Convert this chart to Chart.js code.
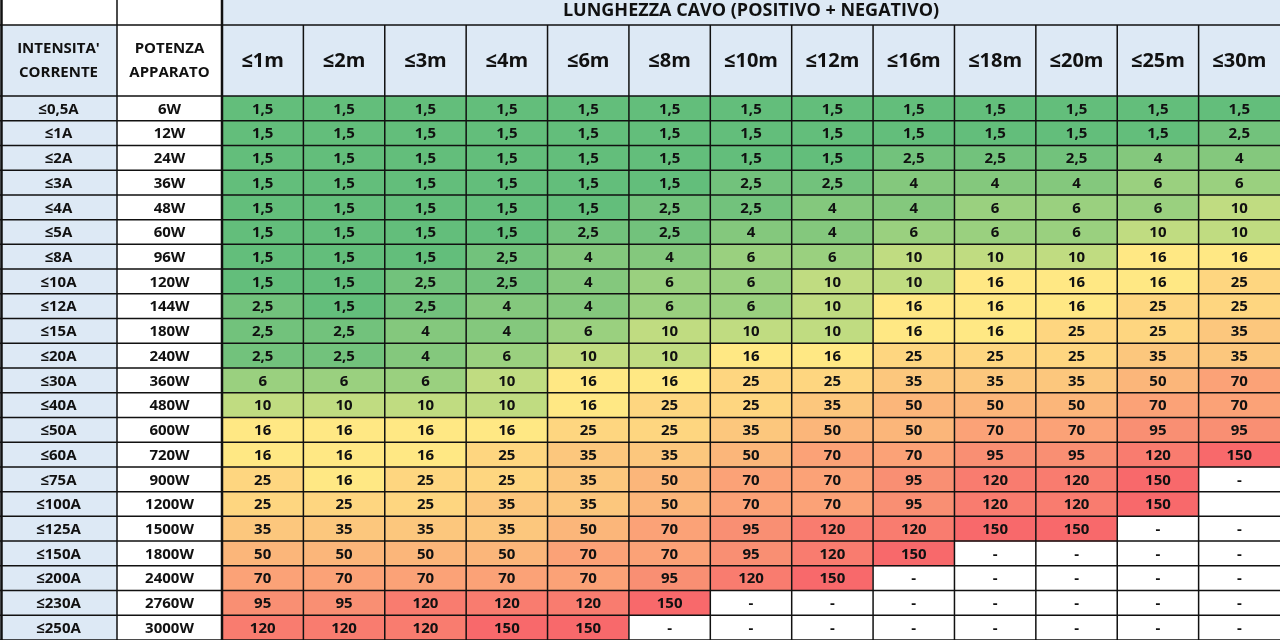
<!DOCTYPE html>
<html><head><meta charset="utf-8">
<script src="https://cdn.jsdelivr.net/npm/chart.js@4"></script>
<style>html,body{margin:0;padding:0;background:#fff}#w{width:1280px;height:640px}</style>
</head><body><div id="w"><canvas id="c"></canvas></div>
<script>
const lengths = ['≤1m','≤2m','≤3m','≤4m','≤6m','≤8m','≤10m','≤12m','≤16m','≤18m','≤20m','≤25m','≤30m'];
const currents = ['≤0,5A','≤1A','≤2A','≤3A','≤4A','≤5A','≤8A','≤10A','≤12A','≤15A','≤20A','≤30A','≤40A','≤50A','≤60A','≤75A','≤100A','≤125A','≤150A','≤200A','≤230A','≤250A'];
const powers = ['6W','12W','24W','36W','48W','60W','96W','120W','144W','180W','240W','360W','480W','600W','720W','900W','1200W','1500W','1800W','2400W','2760W','3000W'];
const sections = [
['1,5','1,5','1,5','1,5','1,5','1,5','1,5','1,5','1,5','1,5','1,5','1,5','1,5'],
['1,5','1,5','1,5','1,5','1,5','1,5','1,5','1,5','1,5','1,5','1,5','1,5','2,5'],
['1,5','1,5','1,5','1,5','1,5','1,5','1,5','1,5','2,5','2,5','2,5','4','4'],
['1,5','1,5','1,5','1,5','1,5','1,5','2,5','2,5','4','4','4','6','6'],
['1,5','1,5','1,5','1,5','1,5','2,5','2,5','4','4','6','6','6','10'],
['1,5','1,5','1,5','1,5','2,5','2,5','4','4','6','6','6','10','10'],
['1,5','1,5','1,5','2,5','4','4','6','6','10','10','10','16','16'],
['1,5','1,5','2,5','2,5','4','6','6','10','10','16','16','16','25'],
['2,5','1,5','2,5','4','4','6','6','10','16','16','16','25','25'],
['2,5','2,5','4','4','6','10','10','10','16','16','25','25','35'],
['2,5','2,5','4','6','10','10','16','16','25','25','25','35','35'],
['6','6','6','10','16','16','25','25','35','35','35','50','70'],
['10','10','10','10','16','25','25','35','50','50','50','70','70'],
['16','16','16','16','25','25','35','50','50','70','70','95','95'],
['16','16','16','25','35','35','50','70','70','95','95','120','150'],
['25','16','25','25','35','50','70','70','95','120','120','150','-'],
['25','25','25','35','35','50','70','70','95','120','120','150',''],
['35','35','35','35','50','70','95','120','120','150','150','-','-'],
['50','50','50','50','70','70','95','120','150','-','-','-','-'],
['70','70','70','70','70','95','120','150','-','-','-','-','-'],
['95','95','120','120','120','150','-','-','-','-','-','-','-'],
['120','120','120','150','150','-','-','-','-','-','-','-','-']
];
const title = 'LUNGHEZZA CAVO (POSITIVO + NEGATIVO)';
const palette = {'1,5':'#63be7b','2,5':'#72c27c','4':'#84c87d','6':'#9ad07f','10':'#c0dc81','16':'#ffe884','25':'#fed680','35':'#fcc77d','50':'#fbb67a','70':'#fba277','95':'#f98f73','120':'#f97c6f','150':'#f8696b','-':'#ffffff','':'#ffffff'};

const datasets = sections.map((row,r)=>({
  data: row.map(()=>[r, r+1]),
  backgroundColor: row.map(v=>palette[v]),
  grouped:false, categoryPercentage:1, barPercentage:1, borderWidth:0, borderSkipped:false
}));

const FONT = '"Open Sans", sans-serif';
const tablePlugin = {
  id:'table',
  afterDatasetsDraw(chart){
    const ctx = chart.ctx, x = chart.scales.x, y = chart.scales.y, a = chart.chartArea;
    const colW = x.getPixelForValue(1) - x.getPixelForValue(0);
    const left = a.left, right = a.right, top = a.top;
    const c0 = 0, c1 = 117, c2 = left;
    ctx.save();
    ctx.fillStyle = '#dde9f5';
    ctx.fillRect(c2, 0, right-c2, top);
    ctx.fillRect(c0, 25, c1-c0, top-25);
    ctx.fillStyle = '#ffffff';
    ctx.fillRect(c1, 25, c2-c1, top-25);
    for (let r=0;r<currents.length;r++){
      const yt=y.getPixelForValue(r), yb=y.getPixelForValue(r+1);
      ctx.fillStyle='#dde9f5'; ctx.fillRect(c0,yt,c1-c0,yb-yt);
      ctx.fillStyle='#ffffff'; ctx.fillRect(c1,yt,c2-c1,yb-yt);
    }
    ctx.fillStyle='#111'; ctx.textAlign='center'; ctx.textBaseline='middle';
    ctx.font='bold 18px '+FONT;
    ctx.fillText(title, (c2+right)/2, 11);
    ctx.font='bold 15px '+FONT;
    ctx.fillText("INTENSITA'", (c0+c1)/2, 49); ctx.fillText('CORRENTE', (c0+c1)/2, 73);
    ctx.fillText('POTENZA', (c1+c2)/2, 49); ctx.fillText('APPARATO', (c1+c2)/2, 73);
    ctx.font='bold 20px '+FONT;
    lengths.forEach((l,i)=>ctx.fillText(l, x.getPixelForValue(i), 61));
    ctx.font='bold 15px '+FONT;
    for (let r=0;r<currents.length;r++){
      const yc=(y.getPixelForValue(r)+y.getPixelForValue(r+1))/2+1;
      ctx.fillText(currents[r], (c0+c1)/2, yc);
      ctx.fillText(powers[r], (c1+c2)/2, yc);
      sections[r].forEach((v,i)=>{ if(v) ctx.fillText(v, x.getPixelForValue(i), yc); });
    }
    ctx.strokeStyle='#111'; ctx.lineWidth=1.5;
    ctx.beginPath();
    for (let r=0;r<=currents.length;r++){ const yy=y.getPixelForValue(r); ctx.moveTo(c0,yy); ctx.lineTo(right,yy); }
    ctx.moveTo(c0,25); ctx.lineTo(right,25);
    for (let i=1;i<lengths.length;i++){ const xx=x.getPixelForValue(i)-colW/2; ctx.moveTo(xx,25); ctx.lineTo(xx,a.bottom); }
    ctx.moveTo(c1,0); ctx.lineTo(c1,a.bottom);
    ctx.stroke();
    ctx.lineWidth=2.5; ctx.beginPath();
    ctx.moveTo(c2,0); ctx.lineTo(c2,a.bottom);
    ctx.moveTo(1.5,0); ctx.lineTo(1.5,a.bottom);
    ctx.stroke();
    ctx.restore();
  }
};

new Chart(document.getElementById('c'), {
  type:'bar',
  data:{ labels: lengths, datasets },
  options:{
    responsive:true, maintainAspectRatio:false, animation:false,
    layout:{ padding:{ left:222, top:96, right:0, bottom:0 } },
    plugins:{ legend:{display:false}, tooltip:{enabled:false} },
    scales:{
      x:{ display:false, offset:true, grid:{display:false} },
      y:{ display:false, min:0, max:22, reverse:true, grid:{display:false} }
    }
  },
  plugins:[tablePlugin]
});
</script></body></html>
